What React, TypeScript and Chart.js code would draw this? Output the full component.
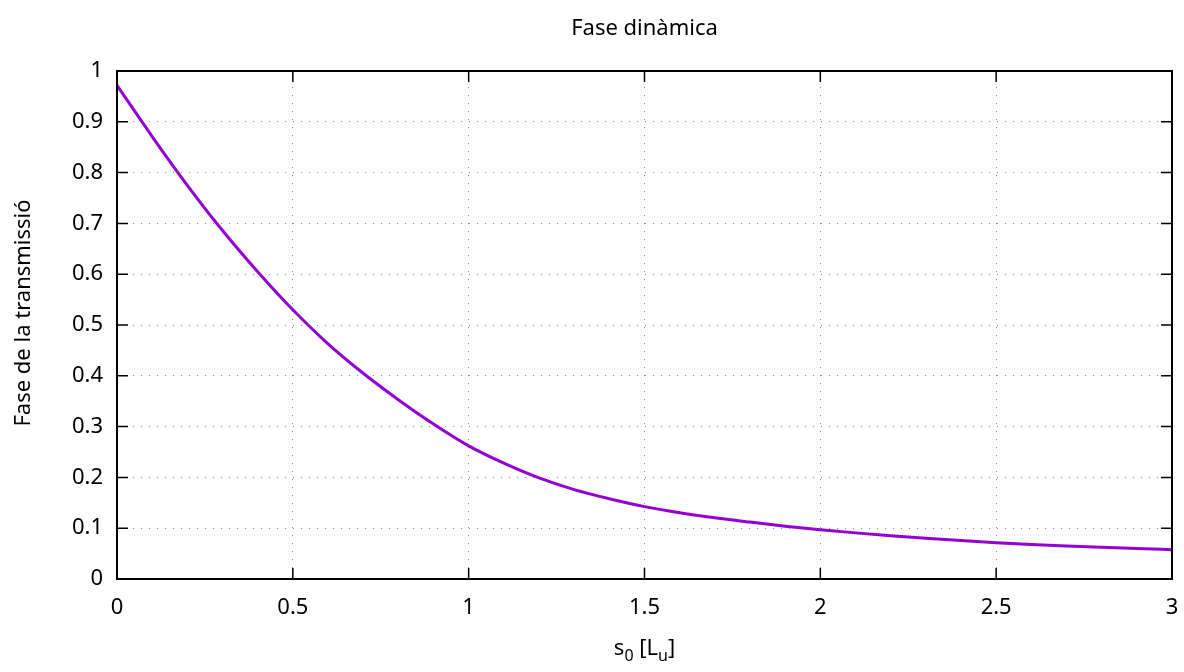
import React, { useEffect, useRef } from "react";
import { Chart, registerables } from "chart.js";

Chart.register(...registerables);

const titleText = "Fase dinàmica";
const yTitle = "Fase de la transmissió";
const xTicks = [0, 0.5, 1, 1.5, 2, 2.5, 3];
const yTicks = [0, 0.1, 0.2, 0.3, 0.4, 0.5, 0.6, 0.7, 0.8, 0.9, 1];

const s0 = [
  0, 0.1, 0.2, 0.3, 0.4, 0.5, 0.6, 0.7, 0.8, 0.9, 1.0, 1.1, 1.2, 1.3, 1.4, 1.5,
  1.6, 1.7, 1.8, 1.9, 2.0, 2.1, 2.2, 2.3, 2.4, 2.5, 2.6, 2.7, 2.8, 2.9, 3.0,
];
const phase = [
  0.972, 0.871, 0.775, 0.686, 0.605, 0.53, 0.463, 0.405, 0.353, 0.305, 0.262,
  0.228, 0.199, 0.176, 0.158, 0.1425, 0.1305, 0.1205, 0.112, 0.104, 0.097,
  0.0908, 0.0852, 0.0802, 0.0756, 0.0715, 0.068, 0.065, 0.0623, 0.0599, 0.0577,
];

const FONT = '"Noto Sans", "DejaVu Sans", sans-serif';
const FS = 22;

const framePlugin = {
  id: "gnuFrame",
  afterDatasetsDraw(chart: any) {
    const { ctx, chartArea: a, scales } = chart;
    const xs = scales.x;
    const ys = scales.y;
    ctx.save();
    ctx.strokeStyle = "#000";
    ctx.lineWidth = 1.5;
    const tl = 11;
    ctx.beginPath();
    for (const v of xTicks) {
      const px = xs.getPixelForValue(v);
      ctx.moveTo(px, a.bottom);
      ctx.lineTo(px, a.bottom - tl);
      ctx.moveTo(px, a.top);
      ctx.lineTo(px, a.top + tl);
    }
    for (const v of yTicks) {
      const py = ys.getPixelForValue(v);
      ctx.moveTo(a.left, py);
      ctx.lineTo(a.left + tl, py);
      ctx.moveTo(a.right, py);
      ctx.lineTo(a.right - tl, py);
    }
    ctx.stroke();
    ctx.lineWidth = 2;
    ctx.strokeRect(a.left, a.top, a.right - a.left, a.bottom - a.top);

    ctx.fillStyle = "#000";
    ctx.font = `${FS}px ${FONT}`;
    ctx.textAlign = "center";
    ctx.textBaseline = "alphabetic";
    const cx = (a.left + a.right) / 2;
    ctx.fillText(titleText, cx, 35);

    ctx.save();
    ctx.translate(30, (a.top + a.bottom) / 2 - 12);
    ctx.rotate(-Math.PI / 2);
    ctx.fillText(yTitle, 0, 0);
    ctx.restore();

    const parts: [string, boolean][] = [
      ["s", false],
      ["0", true],
      [" [L", false],
      ["u", true],
      ["]", false],
    ];
    const subFS = 16;
    let total = 0;
    const widths: number[] = [];
    for (const [t, sub] of parts) {
      ctx.font = `${sub ? subFS : FS}px ${FONT}`;
      const w = ctx.measureText(t).width;
      widths.push(w);
      total += w;
    }
    let x = cx - total / 2;
    const base = 655;
    ctx.textAlign = "left";
    parts.forEach(([t, sub], i) => {
      ctx.font = `${sub ? subFS : FS}px ${FONT}`;
      ctx.fillText(t, x, sub ? base + 6 : base);
      x += widths[i];
    });
    ctx.restore();
  },
};

export default function App() {
  const ref = useRef<HTMLCanvasElement | null>(null);
  useEffect(() => {
    if (!ref.current) return;
    const chart = new Chart(ref.current, {
      type: "line",
      data: {
        datasets: [
          {
            data: s0.map((v, i) => ({ x: v, y: phase[i] })),
            borderColor: "#9400d3",
            borderWidth: 3,
            pointRadius: 0,
            cubicInterpolationMode: "monotone",
            fill: false,
          },
        ],
      },
      options: {
        animation: false,
        responsive: false,
        maintainAspectRatio: false,
        layout: { padding: { top: 71, right: 12, left: 0, bottom: 0 } },
        plugins: {
          legend: { display: false },
          title: { display: false },
          tooltip: { enabled: false },
        },
        scales: {
          x: {
            type: "linear",
            min: 0,
            max: 3,
            afterBuildTicks: (s: any) => {
              s.ticks = xTicks.map((v) => ({ value: v }));
            },
            afterFit: (s: any) => {
              s.height = 93;
              s.paddingLeft = 0;
              s.paddingRight = 0;
            },
            ticks: {
              color: "#000",
              font: { family: FONT, size: FS },
              padding: 16,
              maxRotation: 0,
              autoSkip: false,
              callback: (v: any) => String(v),
            },
            grid: {
              color: "rgba(110,110,110,0.8)",
              lineWidth: 1,
              drawTicks: false,
            },
            border: { display: false, dash: [1, 7] },
          },
          y: {
            type: "linear",
            min: 0,
            max: 1,
            afterBuildTicks: (s: any) => {
              s.ticks = yTicks.map((v) => ({ value: v }));
            },
            afterFit: (s: any) => {
              s.width = 117;
              s.paddingTop = 0;
              s.paddingBottom = 0;
            },
            ticks: {
              color: "#000",
              font: { family: FONT, size: FS },
              padding: 14,
              autoSkip: false,
              callback: (v: any) => String(v),
            },
            grid: {
              color: "rgba(110,110,110,0.8)",
              lineWidth: 1,
              drawTicks: false,
            },
            border: { display: false, dash: [1, 7] },
          },
        },
      },
      plugins: [framePlugin],
    } as any);
    return () => chart.destroy();
  }, []);
  return (
    <div style={{ position: "absolute", left: 0, top: 0, width: 1184, height: 672, background: "#fff" }}>
      <canvas ref={ref} width={1184} height={672} style={{ display: "block", width: 1184, height: 672 }} />
    </div>
  );
}
